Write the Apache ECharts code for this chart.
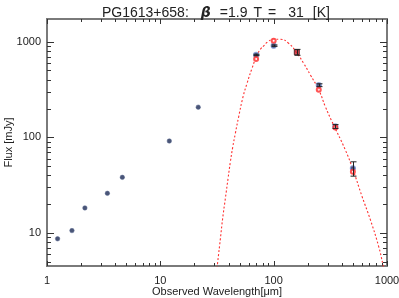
<!DOCTYPE html>
<html>
<head>
<meta charset="utf-8">
<script src="https://cdn.jsdelivr.net/npm/echarts@6/dist/echarts.min.js"></script>
<style>
html,body{margin:0;padding:0;background:#fff;}
#chart{width:399px;height:298px;}
</style>
</head>
<body>
<div id="chart"></div>
<script>
// ---- data ----
const nirWave = [1.24, 1.66, 2.16, 3.41, 4.62, 12.0, 21.6];
const nirFlux = [8.7, 10.6, 18.3, 26.0, 38.2, 91.6, 207];

const firWave = [70, 100, 250, 350, 500];
const firFlux = [727, 909, 351, 130, 47.5];

const modelWave = [70, 100, 250, 350, 500];
const modelFlux = [660, 1024, 314, 127, 43.7];

const redWave = [160];
const redFlux = [776];

const errWave = [70, 100, 160, 250, 350, 500];
const errFlux = [727, 909, 776, 351, 130, 47.4];
const errSize = [12, 15, 55, 12, 6, 8.1];

const fitWave = [31.6, 32.1, 33.9, 35.5, 37.5, 39.6, 41.5, 43.5, 45.9, 49.1, 53.7, 58.2, 64.4, 70.3, 76.3, 83.3, 87.5, 100, 114.6, 135.6, 160, 184, 211, 250, 286, 327, 429, 502, 603, 714, 845, 924, 935];
const fitFlux = [4.3, 5.0, 8.8, 14.3, 23.1, 37.3, 55.6, 78.7, 110, 164, 266, 367, 527, 692, 833, 924, 986, 1059, 1059, 962, 765, 594, 449, 313, 209, 146, 73.8, 45.6, 24.0, 13.7, 7.2, 4.6, 4.3];

const xMajorTicks = [1, 10, 100, 1000];
const xMinorTicks = [2, 3, 4, 5, 6, 7, 8, 9, 20, 30, 40, 50, 60, 70, 80, 90, 200, 300, 400, 500, 600, 700, 800, 900];
const yMajorTicks = [10, 100, 1000];
const yMinorTicks = [5, 6, 7, 8, 9, 20, 30, 40, 50, 60, 70, 80, 90, 200, 300, 400, 500, 600, 700, 800, 900];

const xMin = 1, xMax = 1000, yMin = 4.52, yMax = 1727;

// ---- build ----
const zip = (a, b) => a.map((v, i) => [v, b[i]]);
const tickData = [];
xMajorTicks.forEach(v => tickData.push([v, 10, 0]));
xMinorTicks.forEach(v => tickData.push([v, 10, 1]));
yMajorTicks.forEach(v => tickData.push([10, v, 2]));
yMinorTicks.forEach(v => tickData.push([10, v, 3]));

const errData = errWave.map((w, i) => [w, errFlux[i], errFlux[i] - errSize[i], errFlux[i] + errSize[i]]);

const font = 'Liberation Sans';
const isDecade = v => { const l = Math.log10(v); return Math.abs(l - Math.round(l)) < 1e-6; };
const tok = (pad) => ({fontFamily: font, fontSize: 14, fontWeight: 'normal', color: '#222', padding: [0, 0, 0, pad]});

const chart = echarts.init(document.getElementById('chart'), null, {renderer: 'canvas'});
chart.setOption({
  animation: false,
  backgroundColor: '#ffffff',
  title: {
    text: '{a|PG1613+658:}{b|β}{c|=1.9}{d|T}{d|=}{e|31}{f|[K]}',
    left: 97, top: 1,
    textStyle: {
      fontWeight: 'normal',
      rich: {
        a: tok(0),
        b: {fontFamily: 'DejaVu Sans', fontSize: 14, fontWeight: 'bold', fontStyle: 'italic', color: '#222', padding: [0, 0, 0, 12]},
        c: tok(9),
        d: tok(6),
        e: tok(12),
        f: tok(9)
      }
    }
  },
  grid: {left: 47, right: 12, top: 19, bottom: 32, containLabel: false, outerBoundsMode: 'none',
    show: true, borderColor: '#7a7a7a', borderWidth: 2, backgroundColor: 'transparent'},
  xAxis: {
    type: 'log', logBase: 10, min: xMin, max: xMax,
    name: 'Observed Wavelength[μm]', nameLocation: 'middle', nameGap: 20, nameMoveOverlap: false,
    nameTextStyle: {fontFamily: font, fontSize: 11, color: '#222', verticalAlign: 'top'},
    axisLine: {show: false}, axisTick: {show: false}, splitLine: {show: false},
    axisLabel: {fontFamily: font, fontSize: 11, color: '#222', margin: 9,
      formatter: v => isDecade(v) ? String(Math.round(v)) : ''}
  },
  yAxis: {
    type: 'log', logBase: 10, min: yMin, max: yMax,
    name: 'Flux [mJy]', nameLocation: 'middle', nameGap: 33, nameMoveOverlap: false,
    nameTextStyle: {fontFamily: font, fontSize: 11, color: '#222'},
    axisLine: {show: false}, axisTick: {show: false}, splitLine: {show: false},
    axisLabel: {fontFamily: font, fontSize: 11, color: '#222', margin: 6,
      showMinLabel: false, showMaxLabel: false,
      formatter: v => isDecade(v) ? String(Math.round(v)) : ''}
  },
  series: [
    {
      type: 'custom', silent: true, clip: false, z: 1,
      data: tickData,
      renderItem: (params, api) => {
        const cs = params.coordSys;
        const kind = api.value(2);
        const style = {stroke: '#333', lineWidth: 1};
        if (kind < 2) {
          const x = Math.round(api.coord([api.value(0), 10])[0]) + 0.5;
          const len = kind === 0 ? 5 : 3;
          return {type: 'group', children: [
            {type: 'line', shape: {x1: x, y1: cs.y + cs.height, x2: x, y2: cs.y + cs.height - len}, style},
            {type: 'line', shape: {x1: x, y1: cs.y, x2: x, y2: cs.y + len}, style}
          ]};
        } else {
          const y = Math.round(api.coord([10, api.value(1)])[1]) + 0.5;
          const len = kind === 2 ? 7 : 4;
          return {type: 'group', children: [
            {type: 'line', shape: {x1: cs.x, y1: y, x2: cs.x + len, y2: y}, style},
            {type: 'line', shape: {x1: cs.x + cs.width, y1: y, x2: cs.x + cs.width - len, y2: y}, style}
          ]};
        }
      }
    },
    {
      type: 'line', data: zip(fitWave, fitFlux), showSymbol: false, smooth: true, z: 2,
      lineStyle: {color: '#ff3030', width: 1.1, type: [2, 2]}
    },
    {
      type: 'scatter', data: zip(nirWave, nirFlux), symbol: 'circle', symbolSize: 4.5, z: 3,
      itemStyle: {color: '#1d2a55', borderColor: '#56688f', borderWidth: 0.6}
    },
    {
      type: 'scatter', data: zip(firWave, firFlux), symbol: 'circle', symbolSize: 5, z: 3,
      itemStyle: {color: '#1e2f6e', borderColor: '#7d97d0', borderWidth: 1.2}
    },
    {
      type: 'scatter', data: zip(modelWave, modelFlux), symbol: 'emptyCircle', symbolSize: 4, z: 4,
      itemStyle: {color: '#ff2a2a', borderColor: '#ff2a2a', borderWidth: 1.1}
    },
    {
      type: 'scatter', data: zip(redWave, redFlux), symbol: 'rect', symbolSize: 5, z: 4,
      itemStyle: {color: '#c81f2a', borderColor: '#3a0d12', borderWidth: 1}
    },
    {
      type: 'custom', silent: true, z: 5,
      data: errData,
      renderItem: (params, api) => {
        const x = Math.round(api.coord([api.value(0), api.value(1)])[0]) + 0.5;
        const yl = api.coord([api.value(0), api.value(2)])[1];
        const yh = api.coord([api.value(0), api.value(3)])[1];
        const style = {stroke: '#222', lineWidth: 1};
        return {type: 'group', children: [
          {type: 'line', shape: {x1: x, y1: yl, x2: x, y2: yh}, style},
          {type: 'line', shape: {x1: x - 3, y1: yl, x2: x + 3, y2: yl}, style},
          {type: 'line', shape: {x1: x - 3, y1: yh, x2: x + 3, y2: yh}, style}
        ]};
      }
    }
  ]
});
</script>
</body>
</html>
